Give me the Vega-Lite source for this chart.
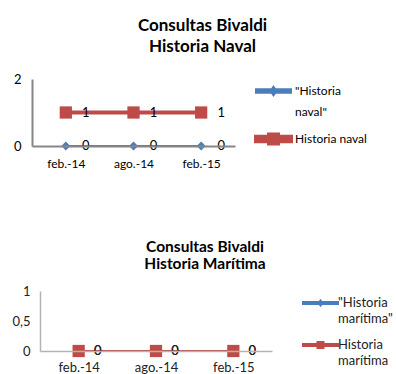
{
  "$schema": "https://vega.github.io/schema/vega-lite/v6.json",
  "padding": {"top": 17, "left": 0, "right": 0, "bottom": 0},
  "background": "white",
  "config": {"view": {"stroke": null}, "font": "Lato", "concat": {"spacing": 70}},
  "datasets": {
    "naval": [
      {"serie": "\"Historia naval\"", "mes": "feb.-14", "valor": 0},
      {"serie": "\"Historia naval\"", "mes": "ago.-14", "valor": 0},
      {"serie": "\"Historia naval\"", "mes": "feb.-15", "valor": 0},
      {"serie": "Historia naval", "mes": "feb.-14", "valor": 1},
      {"serie": "Historia naval", "mes": "ago.-14", "valor": 1},
      {"serie": "Historia naval", "mes": "feb.-15", "valor": 1}
    ],
    "maritima": [
      {"serie": "\"Historia marítima\"", "mes": "feb.-14", "valor": 0},
      {"serie": "\"Historia marítima\"", "mes": "ago.-14", "valor": 0},
      {"serie": "\"Historia marítima\"", "mes": "feb.-15", "valor": 0},
      {"serie": "Historia marítima", "mes": "feb.-14", "valor": 0},
      {"serie": "Historia marítima", "mes": "ago.-14", "valor": 0},
      {"serie": "Historia marítima", "mes": "feb.-15", "valor": 0}
    ]
  },
  "resolve": {
    "scale": {"color": "independent", "strokeWidth": "independent", "x": "independent", "y": "independent"},
    "legend": {"color": "independent"}
  },
  "vconcat": [
    {
      "width": 203,
      "height": 67,
      "title": {"text": ["Consultas Bivaldi", "Historia Naval"], "fontSize": 17, "fontWeight": "bold", "lineHeight": 21, "dx": 69, "offset": 17, "anchor": "middle", "color": "black"},
      "data": {"name": "naval"},
      "encoding": {
        "x": {"field": "mes", "type": "ordinal", "sort": null, "scale": {"type": "point", "padding": 0.5},
              "axis": {"title": null, "labelAngle": 0, "ticks": false, "domainColor": "#868686", "domainWidth": 2, "labelFontSize": 12, "labelPadding": 12, "labelColor": "black", "zindex": 1}},
        "y": {"field": "valor", "type": "quantitative", "scale": {"domain": [0, 2]},
              "axis": {"title": null, "values": [0, 1, 2], "format": "d", "ticks": false, "grid": false, "domainColor": "#868686", "domainWidth": 2, "labelFontSize": 13, "labelPadding": 11, "labelColor": "black", "minExtent": 32, "maxExtent": 32, "zindex": 1}},
        "color": {"field": "serie", "type": "nominal", "sort": null,
                  "scale": {"domain": ["\"Historia naval\"", "Historia naval"], "range": ["#4a7ebb", "#be4b48"]},
                  "legend": {"title": null, "orient": "right", "offset": 15, "padding": 4, "labelFontSize": 12, "labelColor": "black", "labelLimit": 200, "rowPadding": 8, "labelOffset": 23, "symbolSize": 196,
                             "labelExpr": "datum.index === 0 ? split(datum.label, ' ') : datum.label",
                             "encode": {
                               "symbols": {"update": {"shape": {"signal": "datum.index === 0 ? 'M-1,-0.25H4V0.25H-1Z M1.5,-0.6L1.93,0L1.5,0.6L1.07,0Z' : 'M-1,-0.32H4V0.32H-1Z M0.86,-0.64H2.14V0.64H0.86Z'"},
                                                      "fill": {"signal": "datum.index === 0 ? '#4a7ebb' : '#be4b48'"},
                                                      "stroke": {"value": "transparent"}, "strokeWidth": {"value": 0}, "size": {"value": 196}, "opacity": {"value": 1}}},
                               "labels": {"update": {"lineHeight": {"value": 21}}}
                             }}}
      },
      "layer": [
        {"mark": {"type": "line"},
         "encoding": {"strokeWidth": {"field": "serie", "type": "nominal", "scale": {"domain": ["\"Historia naval\"", "Historia naval"], "range": [2, 4]}, "legend": null}}},
        {"transform": [{"filter": "datum.valor === 0"}],
         "mark": {"type": "point", "filled": true, "opacity": 1, "shape": "diamond", "size": 80}},
        {"transform": [{"filter": "datum.valor === 1"}],
         "mark": {"type": "point", "filled": true, "opacity": 1, "shape": "square", "size": 150}},
        {"mark": {"type": "text", "dx": 20, "fontSize": 13, "align": "center", "baseline": "middle"},
         "encoding": {"text": {"field": "valor", "type": "quantitative"}, "color": {"value": "black"}}}
      ]
    },
    {
      "width": 240,
      "height": 60,
      "title": {"text": ["Consultas Bivaldi", "Historia Marítima"], "fontSize": 15.5, "fontWeight": "bold", "lineHeight": 17, "dx": 53, "offset": 13, "anchor": "middle", "color": "black"},
      "data": {"name": "maritima"},
      "encoding": {
        "x": {"field": "mes", "type": "ordinal", "sort": null, "scale": {"type": "point", "padding": 0.5, "range": [8, 240]},
              "axis": {"title": null, "labelAngle": 0, "ticks": false, "domainColor": "#b3b3b3", "domainWidth": 1.5, "labelFontSize": 13, "labelPadding": 10, "labelColor": "#222", "zindex": 1}},
        "y": {"field": "valor", "type": "quantitative", "scale": {"domain": [0, 1]},
              "axis": {"title": null, "values": [0, 0.5, 1], "format": "~g", "offset": -8, "ticks": false, "grid": false, "domainColor": "#b3b3b3", "domainWidth": 1.5, "labelFontSize": 13, "labelPadding": 10, "labelColor": "#222", "minExtent": 20, "maxExtent": 24,
                       "labelExpr": "replace(datum.label, '.', ',')"}},
        "color": {"field": "serie", "type": "nominal", "sort": null,
                  "scale": {"domain": ["\"Historia marítima\"", "Historia marítima"], "range": ["#4a7ebb", "#be4b48"]},
                  "legend": {"title": null, "orient": "right", "offset": 26, "padding": 4, "labelFontSize": 13, "labelColor": "#222", "labelLimit": 200, "rowPadding": 11, "labelOffset": 20, "symbolSize": 196,
                             "labelExpr": "split(datum.label, ' ')",
                             "encode": {
                               "symbols": {"update": {"shape": {"signal": "datum.index === 0 ? 'M-1,-0.14H4V0.14H-1Z M1.5,-0.36L1.75,0L1.5,0.36L1.25,0Z' : 'M-1,-0.15H4V0.15H-1Z M1.07,-0.43H1.93V0.43H1.07Z'"},
                                                      "fill": {"signal": "datum.index === 0 ? '#4a7ebb' : '#be4b48'"},
                                                      "stroke": {"value": "transparent"}, "strokeWidth": {"value": 0}, "size": {"value": 196}, "opacity": {"value": 1}}},
                               "labels": {"update": {"lineHeight": {"value": 16}}}
                             }}}
      },
      "layer": [
        {"mark": {"type": "line"},
         "encoding": {"strokeWidth": {"field": "serie", "type": "nominal", "scale": {"domain": ["\"Historia marítima\"", "Historia marítima"], "range": [2, 2]}, "legend": null}}},
        {"transform": [{"filter": "datum.serie !== 'Historia marítima'"}],
         "mark": {"type": "point", "filled": true, "opacity": 1, "shape": "diamond", "size": 40}},
        {"transform": [{"filter": "datum.serie === 'Historia marítima'"}],
         "mark": {"type": "point", "filled": true, "opacity": 1, "shape": "square", "size": 150}},
        {"mark": {"type": "text", "dx": 19, "fontSize": 13, "align": "center", "baseline": "middle"},
         "encoding": {"text": {"field": "valor", "type": "quantitative"}, "color": {"value": "#222"}}}
      ]
    }
  ]
}
